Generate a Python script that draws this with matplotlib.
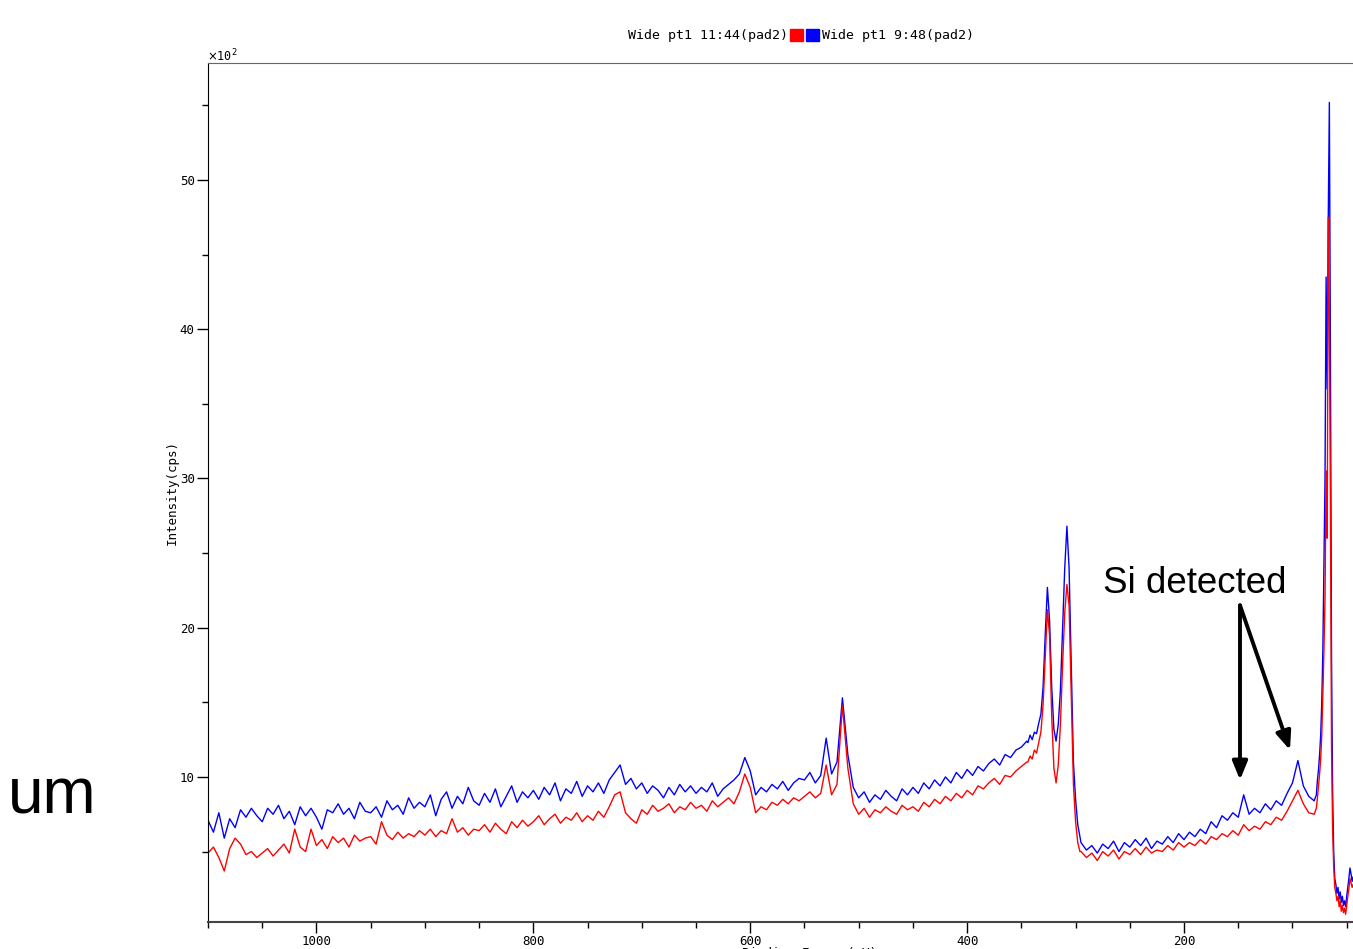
import numpy as np
import matplotlib
matplotlib.use('Agg')
import matplotlib.pyplot as plt
from matplotlib.patches import Rectangle
from matplotlib.ticker import MultipleLocator

plt.rcParams['font.family'] = ['DejaVu Sans Mono']

# ---------------- data (intensity in units of 10^2 cps) ----------------
energy = np.concatenate([np.arange(1100, 344, -5), np.arange(344, 295, -2),
                         np.arange(295, 79, -5), np.arange(78, 43, -1)])

blue_a = [7.1, 6.3, 7.6, 5.9, 7.2, 6.6, 7.8, 7.3, 7.9, 7.4,
          7.0, 7.9, 7.5, 8.1, 7.2, 7.7, 6.8, 8.0, 7.4, 7.9,
          7.3, 6.5, 7.8, 7.6, 8.2, 7.5, 7.9, 7.2, 8.3, 7.7,
          7.6, 8.0, 7.3, 8.4, 7.8, 8.1, 7.5, 8.6, 7.9, 8.3,
          8.0, 8.8, 7.4, 8.5, 9.0, 7.9, 8.7, 8.2, 9.3, 8.4,
          8.1, 8.9, 8.3, 9.2, 8.0, 8.7, 9.4, 8.3, 9.0, 8.6,
          9.1, 8.5, 9.3, 8.8, 9.6, 8.4, 9.2, 8.9, 9.7, 8.7,
          9.4, 9.0, 9.6, 8.9, 9.8, 10.3, 10.8, 9.5, 9.9, 9.2,
          9.6, 8.9, 9.4, 9.1, 8.6, 9.3, 8.8, 9.5, 9.0, 9.4,
          8.9, 9.3, 9.0, 9.6, 8.7, 9.2, 9.5, 9.8, 10.2, 11.3,
          10.4, 8.8, 9.3, 9.0, 9.5, 9.2, 9.7, 9.1, 9.6, 9.9,
          9.8, 10.3, 9.6, 10.1, 12.6, 10.2, 11.0, 15.3, 11.5, 9.3,
          8.6, 9.0, 8.3, 8.8, 8.5, 9.1, 8.7, 8.4, 9.2, 8.8,
          9.3, 8.9, 9.6, 9.2, 9.8, 9.4, 10.0, 9.6, 10.3, 9.9,
          10.5, 10.1, 10.7, 10.4, 10.9, 11.2, 10.8, 11.5, 11.3, 11.8,
          12.0, 12.4]
blue_b = [12.3, 12.8, 12.5, 13.0, 12.9, 13.6, 14.2, 16.0, 19.5, 22.7,
          20.5, 16.0, 13.2, 12.4, 13.5, 15.8, 19.8, 24.0, 26.8, 24.0,
          17.5, 11.0, 8.5, 6.8, 6.0]
blue_c = [5.6, 5.1, 5.4, 4.9, 5.5, 5.2, 5.7, 5.0, 5.6, 5.3,
          5.8, 5.4, 5.9, 5.2, 5.7, 5.5, 6.0, 5.6, 6.2, 5.8,
          6.3, 6.0, 6.5, 6.2, 7.0, 6.6, 7.4, 7.1, 7.6, 7.3,
          8.8, 7.5, 7.9, 7.6, 8.2, 7.8, 8.4, 8.1, 8.9, 9.6,
          11.1, 9.4, 8.7, 8.4]
blue_d = [8.8, 9.8, 10.5, 11.5, 12.8, 15.0, 18.5, 24.0, 30.0, 43.5,
          36.0, 47.5, 55.2, 38.0, 18.0, 9.0, 5.0, 3.2, 2.8, 2.2,
          2.6, 1.8, 2.3, 1.6, 2.0, 1.4, 1.7, 1.3, 2.0, 2.6,
          3.2, 3.9, 3.5, 3.0, 3.3]

red_a = [4.9, 5.3, 4.6, 3.7, 5.2, 5.9, 5.5, 4.8, 5.0, 4.6,
         4.9, 5.2, 4.7, 5.1, 5.5, 4.9, 6.5, 5.3, 5.0, 6.5,
         5.4, 5.8, 5.2, 6.0, 5.6, 5.9, 5.3, 6.1, 5.7, 5.9,
         6.0, 5.5, 7.0, 6.1, 5.8, 6.3, 5.9, 6.2, 6.0, 6.4,
         6.1, 6.5, 6.0, 6.4, 6.2, 7.2, 6.3, 6.6, 6.1, 6.5,
         6.4, 6.8, 6.3, 6.9, 6.5, 6.2, 7.0, 6.6, 7.1, 6.7,
         7.0, 7.4, 6.8, 7.2, 7.5, 6.9, 7.3, 7.1, 7.6, 7.0,
         7.4, 7.1, 7.7, 7.3, 8.0, 8.8, 9.0, 7.6, 7.2, 6.9,
         7.8, 7.5, 8.1, 7.7, 7.9, 8.2, 7.6, 8.0, 7.8, 8.3,
         7.9, 8.1, 7.7, 8.4, 8.0, 8.3, 8.6, 8.2, 9.0, 10.2,
         9.3, 7.6, 8.0, 7.8, 8.3, 8.1, 8.5, 8.2, 8.6, 8.4,
         8.7, 9.0, 8.6, 8.9, 10.8, 8.8, 9.5, 14.8, 10.6, 8.2,
         7.5, 7.9, 7.3, 7.8, 7.6, 8.0, 7.7, 7.5, 8.1, 7.8,
         8.0, 7.7, 8.3, 8.0, 8.5, 8.2, 8.7, 8.4, 8.9, 8.6,
         9.1, 8.8, 9.4, 9.2, 9.6, 9.9, 9.5, 10.1, 10.0, 10.4,
         10.7, 11.0]
red_b = [11.0, 11.4, 11.2, 11.8, 11.6, 12.3, 13.0, 14.8, 18.0, 21.2,
         19.5, 14.0, 10.6, 9.6, 10.8, 13.5, 17.5, 21.0, 22.9, 21.5,
         15.5, 9.5, 7.0, 5.6, 5.0]
red_c = [5.0, 4.6, 4.9, 4.4, 5.0, 4.7, 5.1, 4.5, 5.0, 4.8,
         5.2, 4.8, 5.3, 4.9, 5.1, 5.0, 5.4, 5.1, 5.6, 5.3,
         5.6, 5.4, 5.8, 5.5, 6.0, 5.8, 6.2, 6.0, 6.4, 6.1,
         6.8, 6.4, 6.7, 6.5, 7.0, 6.8, 7.3, 7.1, 7.7, 8.4,
         9.1, 8.2, 7.6, 7.5]
red_d = [7.9, 8.6, 9.4, 10.2, 11.2, 12.8, 15.5, 18.5, 22.0, 30.5,
         26.0, 47.5, 41.0, 28.0, 12.0, 6.5, 4.0, 2.6, 2.2, 1.7,
         2.0, 1.3, 1.7, 1.0, 1.4, 0.9, 1.2, 0.8, 1.4, 2.0,
         2.5, 3.2, 2.9, 2.6, 2.8]

blue = np.array(blue_a + blue_b + blue_c + blue_d)
red = np.array(red_a + red_b + red_c + red_d)

series_names = ["Wide pt1 11:44(pad2)", "Wide pt1 9:48(pad2)"]

# ---------------- figure ----------------
W, H = 1353, 949
fig = plt.figure(figsize=(W / 100, H / 100), dpi=100)
fig.patch.set_facecolor('white')
ax = fig.add_axes([208 / W, 1 - 922 / H, 1 - 208 / W, (922 - 63) / H])

ax.plot(energy, blue, color='#0000ff', lw=1.0)
ax.plot(energy, red, color='#ff0000', lw=1.0)

ax.set_xlim(1100, 44.2)
ax.set_ylim(0.28, 57.84)

ax.xaxis.set_major_locator(MultipleLocator(200))
ax.xaxis.set_minor_locator(MultipleLocator(50))
ax.yaxis.set_major_locator(MultipleLocator(10))
ax.yaxis.set_minor_locator(MultipleLocator(5))
ax.tick_params(which='both', direction='out', width=1, colors='black', labelsize=9)
ax.tick_params(which='major', length=8, pad=1.5)
ax.tick_params(which='minor', length=4)

ax.spines['right'].set_visible(False)
ax.spines['top'].set_color('#666666')
ax.spines['left'].set_color('black')
ax.spines['bottom'].set_color('#444444')
ax.spines['bottom'].set_linewidth(1.5)

ax.set_ylabel('Intensity(cps)', fontsize=9)
ax.yaxis.set_label_coords(-29 / (W - 208), 0.5)

# x label: mostly below the visible area, as in the reference
fig.text(742 / W, 1 - 947.5 / H, 'Binding Energy(eV)', fontsize=9, ha='left', va='top')

# x10^2 multiplier
fig.text(207 / W, 1 - 64 / H, r'$\times$10$^2$', fontsize=8.5, ha='left', va='bottom')

# legend-like title
ty = 1 - 35 / H
fig.text(788 / W, ty, series_names[0], fontsize=9.5, ha='right', va='center')
fig.patches.append(Rectangle((790 / W, 1 - 41 / H), 13 / W, 12 / H,
                             transform=fig.transFigure, color='#ff0000'))
fig.patches.append(Rectangle((806 / W, 1 - 41 / H), 13 / W, 12 / H,
                             transform=fig.transFigure, color='#0000ff'))
fig.text(822 / W, ty, series_names[1], fontsize=9.5, ha='left', va='center')

# annotations
fig.text(8 / W, 1 - 814 / H, 'um', fontsize=46, family='Liberation Sans',
         ha='left', va='baseline')
fig.text(1103 / W, 1 - 593 / H, 'Si detected', fontsize=26.5, family='Liberation Sans',
         ha='left', va='baseline', color='black')
arrow_kw = dict(arrowstyle='-|>,head_length=1.1,head_width=0.45', color='black', lw=2.8,
                shrinkA=0, shrinkB=0)
ax.annotate('', xy=(148.4, 9.8), xytext=(148.4, 21.5), arrowprops=arrow_kw)
ax.annotate('', xy=(102.3, 11.8), xytext=(148.4, 21.5), arrowprops=arrow_kw)

fig.savefig('out.png', dpi=100, facecolor='white')
